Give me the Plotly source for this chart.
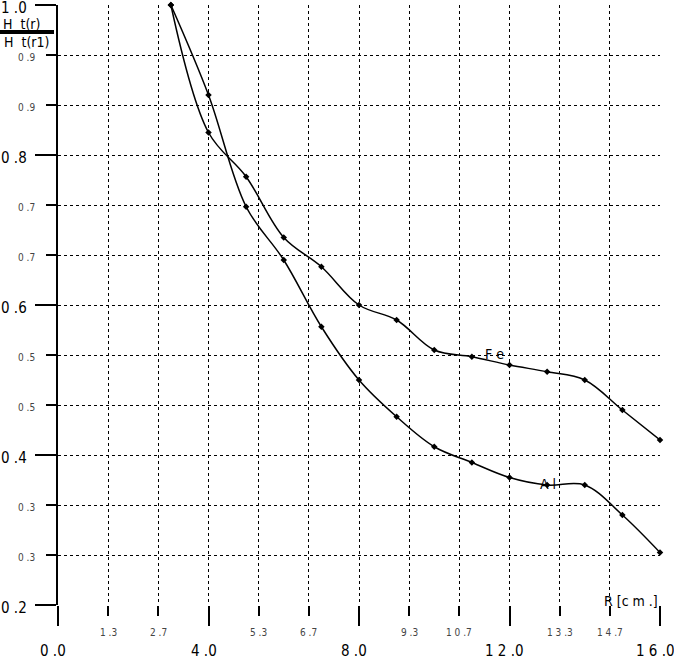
import plotly.graph_objects as go

# ---- data ----
r_cm = [3, 4, 5, 6, 7, 8, 9, 10, 11, 12, 13, 14, 15, 16]
fe_ratio = [1.0, 0.830, 0.771, 0.690, 0.651, 0.600, 0.580, 0.540, 0.531, 0.520, 0.511, 0.500, 0.460, 0.420]
al_ratio = [1.0, 0.880, 0.731, 0.660, 0.571, 0.500, 0.451, 0.411, 0.390, 0.370, 0.360, 0.360, 0.320, 0.270]

x_major_vals = [0, 4, 8, 12, 16]
x_major_text = ["0 .0", "4 .0", "8 .0", "1 2 .0", "1 6 .0"]
x_minor_vals = [4/3, 8/3, 16/3, 20/3, 28/3, 32/3, 40/3, 44/3]
x_minor_text = ["1 .3", "2 .7", "5 .3", "6 .7", "9 .3", "1 0 .7", "1 3 .3", "1 4 .7"]

y_major_vals = [0.2, 0.4, 0.6, 0.8, 1.0]
y_major_text = ["0 .2", "0 .4", "0 .6", "0 .8", "1 .0"]
y_minor_vals = [0.2 + 0.8 * k / 12 for k in (1, 2, 4, 5, 7, 8, 10, 11)]
y_minor_text = ["0 .3", "0 .3", "0 .5", "0 .5", "0 .7", "0 .7", "0 .9", "0 .9"]

FONT = "Liberation Sans Narrow, DejaVu Sans Condensed, Liberation Sans, sans-serif"

fig = go.Figure()
for name, ys in (("Fe", fe_ratio), ("Al", al_ratio)):
    fig.add_trace(go.Scatter(
        x=r_cm, y=ys, mode="lines+markers", name=name,
        line=dict(color="black", width=1.5, shape="spline", smoothing=1.0),
        marker=dict(symbol="diamond", size=5, color="black"),
        showlegend=False, cliponaxis=False,
    ))

grid = dict(showgrid=True, gridcolor="black", gridwidth=1, griddash="dot")

fig.update_xaxes(
    range=[0, 16], tickmode="array", tickvals=x_major_vals, showticklabels=False,
    ticks="outside", ticklen=20, tickwidth=1.5, tickcolor="black", automargin=False,
    zeroline=False, showline=False, **grid,
    minor=dict(tickmode="array", tickvals=x_minor_vals, ticks="outside", ticklen=10,
               tickwidth=1.5, tickcolor="black", showgrid=True, gridcolor="black",
               gridwidth=1, griddash="dot"),
)
fig.update_yaxes(
    range=[0.2, 1.0], tickmode="array", tickvals=y_major_vals, showticklabels=False,
    ticks="outside", ticklen=21, tickwidth=1.5, tickcolor="black", automargin=False,
    zeroline=False, showline=True, linecolor="black", linewidth=1.5, **grid,
    minor=dict(tickmode="array", tickvals=y_minor_vals, ticks="outside", ticklen=10,
               tickwidth=1.5, tickcolor="black", showgrid=True, gridcolor="black",
               gridwidth=1, griddash="dot"),
)

ann = []
for v, t in zip(x_major_vals, x_major_text):
    ann.append(dict(x=v, y=0, xref="x", yref="paper", text=t, showarrow=False,
                    xanchor="center", yanchor="middle", xshift=-5, yshift=-46,
                    font=dict(family=FONT, size=15, color="black")))
for v, t in zip(x_minor_vals, x_minor_text):
    ann.append(dict(x=v, y=0, xref="x", yref="paper", text=t,
                    showarrow=False, xanchor="center", yanchor="middle", yshift=-27,
                    font=dict(family=FONT, size=10, color="#444")))
for v, t in zip(y_major_vals, y_major_text):
    ann.append(dict(x=0, y=v, xref="paper", yref="y", text=t, showarrow=False,
                    xanchor="left", yanchor="middle", xshift=-59, yshift=-3,
                    font=dict(family=FONT, size=15, color="black")))
for v, t in zip(y_minor_vals, y_minor_text):
    ann.append(dict(x=0, y=v, xref="paper", yref="y", text=t, showarrow=False,
                    xanchor="center", yanchor="middle", xshift=-32, yshift=-2,
                    font=dict(family=FONT, size=10, color="#444")))

ann += [
    dict(x=0, y=1, xref="paper", yref="paper", text="H  t(r)", showarrow=False,
         xanchor="center", yanchor="middle", xshift=-37, yshift=-19,
         font=dict(family=FONT, size=14, color="black")),
    dict(x=0, y=1, xref="paper", yref="paper", text="H  t(r1)", showarrow=False,
         xanchor="center", yanchor="middle", xshift=-32, yshift=-37,
         font=dict(family=FONT, size=14, color="black")),
    dict(x=1, y=0, xref="paper", yref="paper", text="R [c m .]", showarrow=False,
         xanchor="right", yanchor="middle", xshift=0, yshift=4,
         font=dict(family=FONT, size=14, color="black")),
    dict(x=11.61, y=0.5347, xref="x", yref="y", text="F e", showarrow=False,
         xanchor="center", yanchor="middle",
         font=dict(family=FONT, size=14, color="black")),
    dict(x=13.02, y=0.3613, xref="x", yref="y", text="A l", showarrow=False,
         xanchor="center", yanchor="middle",
         font=dict(family=FONT, size=14, color="black")),
]

fig.update_layout(
    width=674, height=661,
    margin=dict(l=58, r=14, t=5, b=56),
    paper_bgcolor="white", plot_bgcolor="white",
    annotations=ann,
    shapes=[dict(type="line", xref="paper", yref="paper",
                 x0=-58/602, x1=-4/602, y0=(605-32)/600, y1=(605-32)/600,
                 line=dict(color="black", width=4))],
)

fig.write_html("out.html", config={"displayModeBar": False},
               post_script="document.body.style.margin='0';document.body.style.padding='0';")
